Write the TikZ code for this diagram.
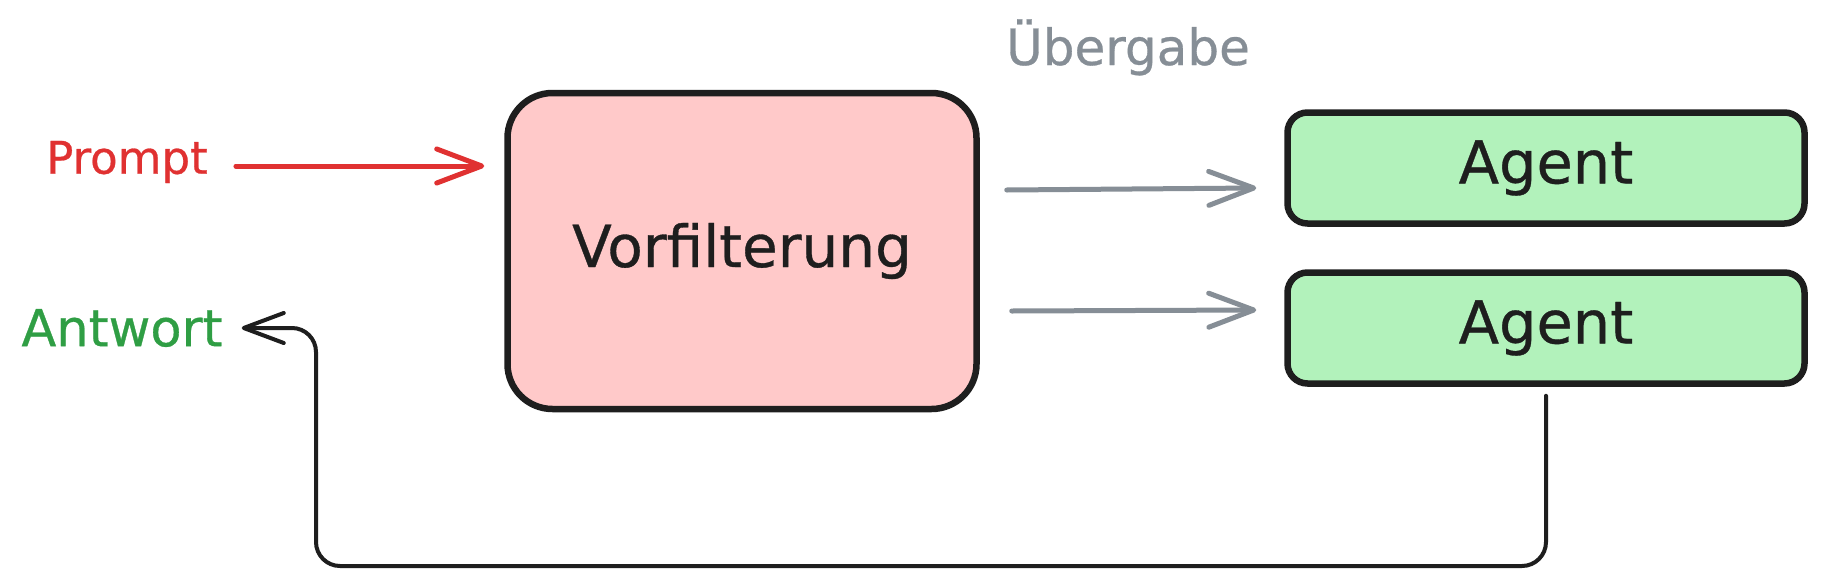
\documentclass[tikz,border=0pt]{standalone}
\usepackage{fontspec}
\setmainfont{DejaVu Sans}[FakeBold=0.6,AutoFakeBold=0.6]
\usetikzlibrary{arrows.meta,calc}
\definecolor{ink}{HTML}{1E1E1E}
\definecolor{redink}{HTML}{E03131}
\definecolor{greenink}{HTML}{2F9E44}
\definecolor{grayink}{HTML}{868E96}
\definecolor{pinkfill}{HTML}{FFC9C9}
\definecolor{greenfill}{HTML}{B2F2BB}
\tikzset{
  sketchbox/.style={draw=ink, line width=6.5pt, rounded corners=#1, inner sep=0pt},
  agentbox/.style={sketchbox=20pt, fill=greenfill, minimum width=517pt, minimum height=111pt,
    text=ink, font=\fontsize{59}{62}\selectfont\bfseries},
  lbl/.style={inner sep=3pt},
  barb/.style={-{Straight Barb[length=#1, width=34pt, line cap=round, line join=round]}},
  redarr/.style={draw=redink, line width=5pt, line cap=round, barb=45pt},
  grayarr/.style={draw=grayink, line width=5pt, line cap=round, barb=45pt},
  retarr/.style={draw=ink, line width=4pt, line cap=round, rounded corners=24pt,
    -{Straight Barb[length=40pt, width=30pt, line cap=round, line join=round]}},
}
\begin{document}
\begin{tikzpicture}[x=1pt,y=-1pt]
\useasboundingbox (0,0) rectangle (1824,576);
\fill[white] (0,0) rectangle (1824,576);

% nodes
\node[sketchbox=45pt, fill=pinkfill, minimum width=469pt, minimum height=316pt,
      text=ink, font=\fontsize{58}{60}\selectfont\bfseries] (vf) at (742,251) {\raisebox{-4pt}{Vorfilterung}};
\node[agentbox] (a1) at (1546,168) {Agent};
\node[agentbox] (a2) at (1546,328) {Agent};

\node[lbl, text=redink, font=\fontsize{45}{48}\selectfont\bfseries] (prompt) at (127,162) {Prompt};
\node[lbl, text=greenink, font=\fontsize{51}{54}\selectfont\bfseries] (ant) at (122,328) {Antwort};
\node[lbl, text=grayink, font=\fontsize{50}{54}\selectfont\bfseries, anchor=base] (ueb) at (1128,65) {Übergabe};

% connectors
\draw[redarr] ($(prompt.east)+(25,4)$) -- ($(vf.west)+(-20,-85)$);
\draw[grayarr] ($(vf.east)+(27,-61)$) -- ($(a1.west)+(-28,20)$);
\draw[grayarr] ($(vf.east)+(32,60)$) -- ($(a2.west)+(-28,-18)$);

\coordinate (rb) at (316,566);
\draw[retarr] ($(a2.south)+(0,9)$) -- (a2.south |- rb) -- (rb) -- (rb |- ant.east)
   -- ($(ant.east)+(16,0)$);
\end{tikzpicture}
\end{document}
